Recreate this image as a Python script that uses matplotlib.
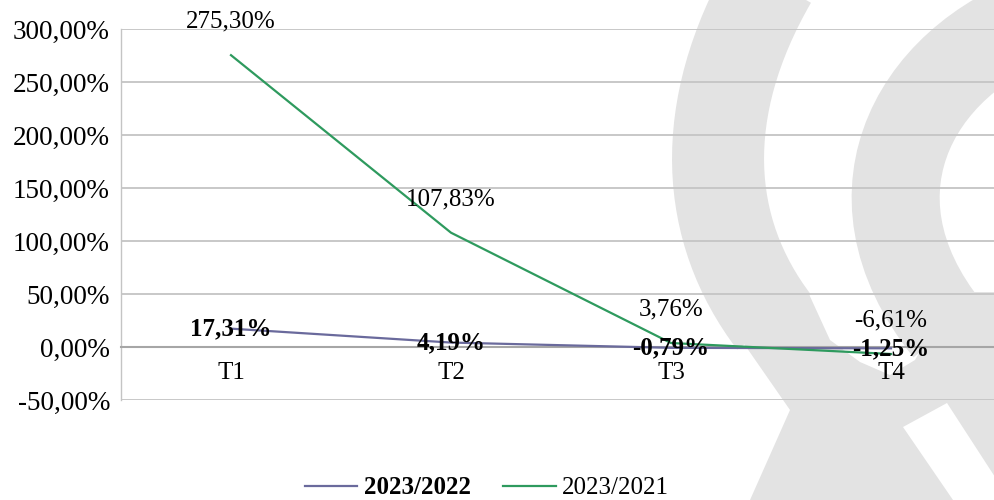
import matplotlib
matplotlib.use("Agg")
import matplotlib.pyplot as plt
from matplotlib.path import Path
import matplotlib.patches as patches

categories = ["T1", "T2", "T3", "T4"]
serie_2022 = [17.31, 4.19, -0.79, -1.25]
serie_2021 = [275.30, 107.83, 3.76, -6.61]
label_2022 = "2023/2022"
label_2021 = "2023/2021"
y_ticks = [-50, 0, 50, 100, 150, 200, 250, 300]

PURPLE = "#6a6a9c"
GREEN = "#2e9a5e"
WM = "#e3e3e3"

plt.rcParams['font.family'] = ['Liberation Serif', 'DejaVu Serif']

W, H = 995, 500
fig = plt.figure(figsize=(W / 100, H / 100), dpi=100)


def fmt(v):
    return f"{v:.2f}".replace(".", ",") + "%"


def to_fig(pts):
    return [(x / W, 1 - y / H) for x, y in pts]


# watermark (grey "§"-like shape), pixel coords -> figure coords
def stroke(pts, width):
    codes = [Path.MOVETO] + [Path.CURVE4] * (len(pts) - 1)
    p = patches.PathPatch(Path(to_fig(pts), codes), transform=fig.transFigure,
                          facecolor="none", edgecolor=WM, lw=width * 0.72,
                          capstyle="butt", zorder=-5)
    fig.add_artist(p)

stroke([(771, -20), (696, 110), (704, 230), (774, 322)], 92)
stroke([(1060, 10), (920, 50), (835, 190), (948, 330)], 88)
lower = [(708, 292), (790, 410), (750, 500), (953, 500), (903, 427),
         (947, 403), (995, 477), (995, 292), (895, 292), (927, 340),
         (915, 360), (890, 375), (860, 362), (830, 340), (808, 292)]
fig.add_artist(patches.Polygon(to_fig(lower), closed=True,
                               transform=fig.transFigure, facecolor=WM,
                               edgecolor="none", zorder=-5))

ax = fig.add_axes([121 / W, 1 - 400 / H, 880 / W, 371 / H])
ax.patch.set_alpha(0)
x = list(range(len(categories)))

ax.plot(x, serie_2022, color=PURPLE, lw=1.6, label=label_2022, zorder=3)
ax.plot(x, serie_2021, color=GREEN, lw=1.6, label=label_2021, zorder=4)

for xi, v in zip(x, serie_2022):
    ax.annotate(fmt(v), (xi, v), ha="center", va="center", fontsize=18,
                fontweight="bold", zorder=6)
for xi, v in zip(x, serie_2021):
    ax.annotate(fmt(v), (xi, v), xytext=(0, 24), textcoords="offset points",
                ha="center", va="center", fontsize=18, zorder=6)

for s in ["top", "right"]:
    ax.spines[s].set_visible(False)
ax.spines["left"].set_color("#c4c4c4")
ax.spines["left"].set_linewidth(1.0)
ax.spines["bottom"].set_position(("data", 0))
ax.spines["bottom"].set_color("#a6a6a6")
ax.spines["bottom"].set_linewidth(1.5)

ax.set_xlim(-0.5, 3.5)
ax.set_ylim(-50, 300)
ax.set_yticks(y_ticks)
ax.set_yticklabels([fmt(t) for t in y_ticks])
ax.set_xticks(x)
ax.set_xticklabels(categories)
ax.tick_params(axis="both", length=0)
ax.tick_params(axis="y", pad=8, labelsize=19.5)
ax.tick_params(axis="x", pad=11, labelsize=18)
ax.yaxis.grid(True, color="#c4c4c4", lw=1.3)
ax.set_axisbelow(True)

leg = fig.legend(loc="center", bbox_to_anchor=(487 / W, 1 - 488 / H), ncol=2,
                 frameon=False, fontsize=18, handlelength=2.1,
                 handletextpad=0.25, columnspacing=1.3)
leg.get_texts()[0].set_fontweight("bold")

fig.savefig("out.png", dpi=100)
